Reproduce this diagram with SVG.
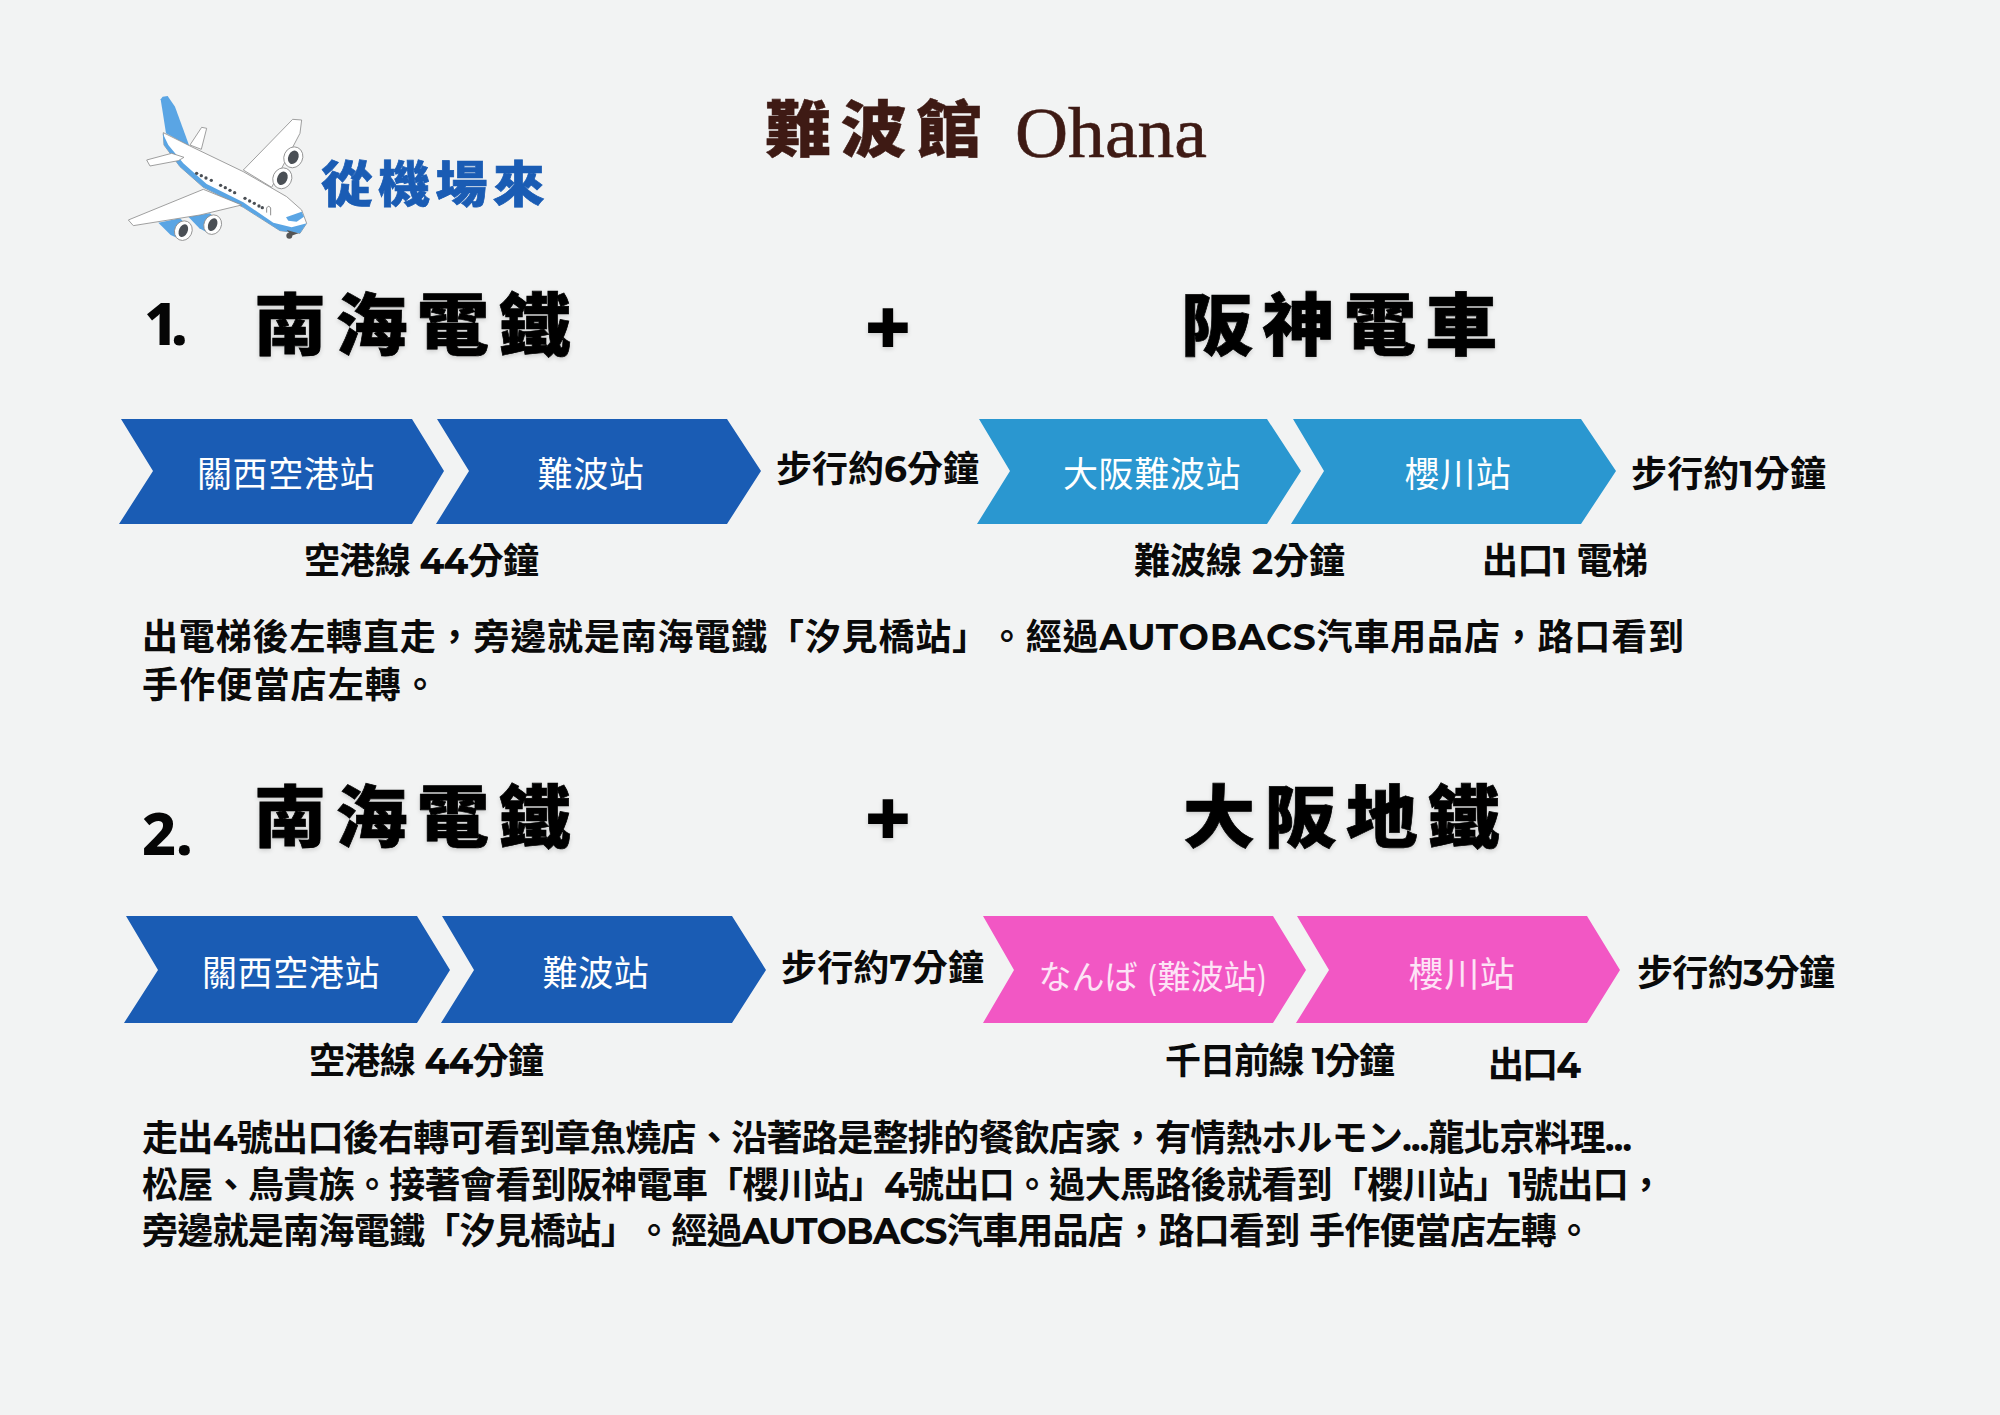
<svg xmlns="http://www.w3.org/2000/svg" width="2000" height="1415" viewBox="0 0 2000 1415">
<defs>
<filter id="soft" x="-5%" y="-10%" width="110%" height="125%"><feDropShadow dx="0" dy="2" stdDeviation="2" flood-color="#000" flood-opacity=".15"/></filter>
<style>
text{font-family:"Montserrat","Inter","Noto Sans CJK TC","Noto Sans CJK JP",sans-serif;text-spacing-trim:space-all}
.h{font-size:68px;font-weight:900;fill:#030303;stroke:#030303;stroke-width:.7px;letter-spacing:8.8px;filter:url(#soft)}
.n{font-family:"Noto Sans",sans-serif;font-weight:800;fill:#050505;font-size:59px}
.plus{font-family:"Noto Sans",sans-serif;font-weight:900;fill:#030303;font-size:80px;text-anchor:middle;filter:url(#soft)}
.w{font-size:36px;font-weight:700;fill:#0a0a0a}
.s{font-size:35px;font-weight:400;fill:#fff;text-anchor:middle;letter-spacing:.6px}
.b{font-size:36px;font-weight:700;fill:#0a0a0a}
.p1{fill:#1a5cb4}.p2{fill:#2a97d0}.p3{fill:#f257c4}
.pw{fill:#fff;stroke:#8d8d8d;stroke-width:2.5;stroke-linejoin:round}
.pb{fill:#5aa5e4}
.pd{fill:#4a4f55}
</style>
</defs>
<rect width="2000" height="1415" fill="#f2f3f3"/>

<g id="plane" transform="translate(100 70) scale(.3333)">
<path class="pw" d="M270 225 305 172 320 175 304 238Z"/>
<path class="pw" d="M430 300 578 148 605 150 600 190 515 352Z"/>
<g id="eng-up">
<ellipse class="pw" cx="580" cy="262" rx="28" ry="32" transform="rotate(25 580 262)"/><ellipse class="pd" cx="580" cy="262" rx="15" ry="21" transform="rotate(25 580 262)"/>
<ellipse class="pw" cx="547" cy="325" rx="28" ry="32" transform="rotate(25 547 325)"/><ellipse class="pd" cx="547" cy="325" rx="15" ry="21" transform="rotate(25 547 325)"/>
</g>
<path class="pb" d="M188 80 182 88 198 190 268 228 225 110 203 78Z"/>
<path class="pw" d="M190 188 270 228 430 305 560 380 605 420 620 460 600 490 540 482 430 412 310 352 240 290 192 225Z"/>
<path class="pb" d="M188 190 192 225 240 290 310 352 430 412 540 482 600 490 620 460 612 462 575 472 520 458 430 397 320 342 250 280 205 225Z"/>
<path class="pb" d="M558 442 605 425 612 440 590 455 565 452Z"/>
<path class="pw" d="M140 270 215 250 252 262 235 272 150 288Z"/>
<g id="windows" class="pd">
<circle cx="290" cy="310" r="5"/><circle cx="304" cy="317" r="5"/><circle cx="318" cy="324" r="5"/><circle cx="334" cy="331" r="5"/>
<circle cx="362" cy="346" r="5"/><circle cx="376" cy="353" r="5"/><circle cx="390" cy="361" r="5"/><circle cx="404" cy="368" r="5"/>
<circle cx="435" cy="385" r="5"/><circle cx="449" cy="393" r="5"/><circle cx="463" cy="400" r="5"/><circle cx="477" cy="408" r="5"/><circle cx="487" cy="413" r="5"/>
</g>
<path d="M500 428V414Q506 404 512 414V436" fill="none" stroke="#777" stroke-width="2.5"/>
<path class="pb" d="M175 458 240 445 275 480 245 510 212 495Z"/>
<path class="pb" d="M265 440 330 430 365 465 330 492 298 475Z"/>
<path class="pw" d="M85 450 310 358 425 405 300 435 100 467Z"/>
<g id="eng-low">
<ellipse class="pw" cx="250" cy="482" rx="26" ry="30" transform="rotate(25 250 482)"/><ellipse class="pd" cx="250" cy="482" rx="13" ry="20" transform="rotate(25 250 482)"/>
<ellipse class="pw" cx="338" cy="464" rx="26" ry="30" transform="rotate(25 338 464)"/><ellipse class="pd" cx="338" cy="464" rx="13" ry="20" transform="rotate(25 338 464)"/>
</g>
<path d="M560 480 595 490 575 497Z" fill="#555"/><circle cx="568" cy="497" r="9" fill="#555"/>
</g>

<g id="title">
<text transform="translate(321 202) scale(1.06 1)" fill="#1a5cb4" stroke="#1a5cb4" stroke-width=".7" style="font-size:49px;font-weight:900;letter-spacing:5px">從機場來</text>
<text transform="translate(765 152) scale(1.08 1)" fill="#3e1a14" stroke="#3e1a14" stroke-width=".5" style="font-size:61px;font-weight:900;letter-spacing:9px">難波館</text>
<text x="1015" y="157" textLength="192" lengthAdjust="spacingAndGlyphs" fill="#3e1a14" stroke="#3e1a14" stroke-width=".6" style="font-family:'Liberation Serif',serif;font-size:72px">Ohana</text>
</g>

<g id="route1">
<text class="n" x="144" y="345" style="letter-spacing:-7px">1.</text>
<text class="h" transform="translate(254 350) scale(1.06 1)">南海電鐵</text>
<text class="plus" x="888" y="356">+</text>
<text class="h" transform="translate(1181 350) scale(1.06 1)">阪神電車</text>
</g>
<g id="route1-chevrons">
<g id="n1-1"><path class="p1" d="M121 419H412L444 471 412 524H119L153 471Z"/><text class="s" x="286" y="487">關西空港站</text></g>
<g id="n1-2"><path class="p1" d="M437 419H727L761 471 727 524H436L469 471Z"/><text class="s" x="591" y="487">難波站</text></g>
<g id="n1-3"><path class="p2" d="M979 419H1267L1301 471 1267 524H977L1010 471Z"/><text class="s" x="1152" y="487">大阪難波站</text></g>
<g id="n1-4"><path class="p2" d="M1293 419H1581L1616 471 1581 524H1291L1324 471Z"/><text class="s" x="1458" y="487">櫻川站</text></g>
</g>
<g id="route1-labels">
<text class="w" x="776" y="482" textLength="203">步行約6分鐘</text>
<text class="w" x="1631" y="487" textLength="195">步行約1分鐘</text>
<text class="w" x="304" y="574" textLength="235">空港線 44分鐘</text>
<text class="w" x="1134" y="574" textLength="211">難波線 2分鐘</text>
<text class="w" x="1482" y="574" textLength="166">出口1 電梯</text>
<text class="b" x="142" y="650" textLength="1542">出電梯後左轉直走&#xFF0C;旁邊就是南海電鐵「汐見橋站」。經過AUTOBACS汽車用品店&#xFF0C;路口看到</text>
<text class="b" x="142" y="698" textLength="296">手作便當店左轉。</text>
</g>

<g id="route2">
<text class="n" x="142" y="855">2.</text>
<text class="h" transform="translate(254 842) scale(1.06 1)">南海電鐵</text>
<text class="plus" x="888" y="847">+</text>
<text class="h" transform="translate(1183 842) scale(1.06 1)">大阪地鐵</text>
</g>
<g id="route2-chevrons">
<g id="n2-1"><path class="p1" d="M126 916H417L450 970 417 1023H124L158 970Z"/><text class="s" x="291" y="986">關西空港站</text></g>
<g id="n2-2"><path class="p1" d="M442 916H732L766 970 732 1023H441L474 970Z"/><text class="s" x="596" y="986">難波站</text></g>
<g id="n2-3"><path class="p3" d="M983 916H1273L1306 970 1273 1023H983L1014 970Z"/><text class="s" x="1153" y="989" textLength="229" style="font-size:33px;letter-spacing:0;fill:#fde4f6">なんば (難波站)</text></g>
<g id="n2-4"><path class="p3" d="M1297 916H1587L1620 970 1587 1023H1296L1329 970Z"/><text class="s" x="1462" y="987" style="fill:#fde4f6">櫻川站</text></g>
</g>
<g id="route2-labels">
<text class="w" x="781" y="981" textLength="203">步行約7分鐘</text>
<text class="w" x="1637" y="986" textLength="198">步行約3分鐘</text>
<text class="w" x="309" y="1074" textLength="235">空港線 44分鐘</text>
<text class="w" x="1165" y="1074" textLength="230">千日前線 1分鐘</text>
<text class="w" x="1488" y="1078" textLength="93">出口4</text>
<text class="b" x="142" y="1151" textLength="1490">走出4號出口後右轉可看到章魚燒店、沿著路是整排的餐飲店家&#xFF0C;有情熱ホルモン...龍北京料理...</text>
<text class="b" x="142" y="1198" textLength="1522">松屋、鳥貴族。接著會看到阪神電車「櫻川站」4號出口。過大馬路後就看到「櫻川站」1號出口&#xFF0C;</text>
<text class="b" x="142" y="1244" textLength="1450">旁邊就是南海電鐵「汐見橋站」。經過AUTOBACS汽車用品店&#xFF0C;路口看到 手作便當店左轉。</text>
</g>
</svg>
